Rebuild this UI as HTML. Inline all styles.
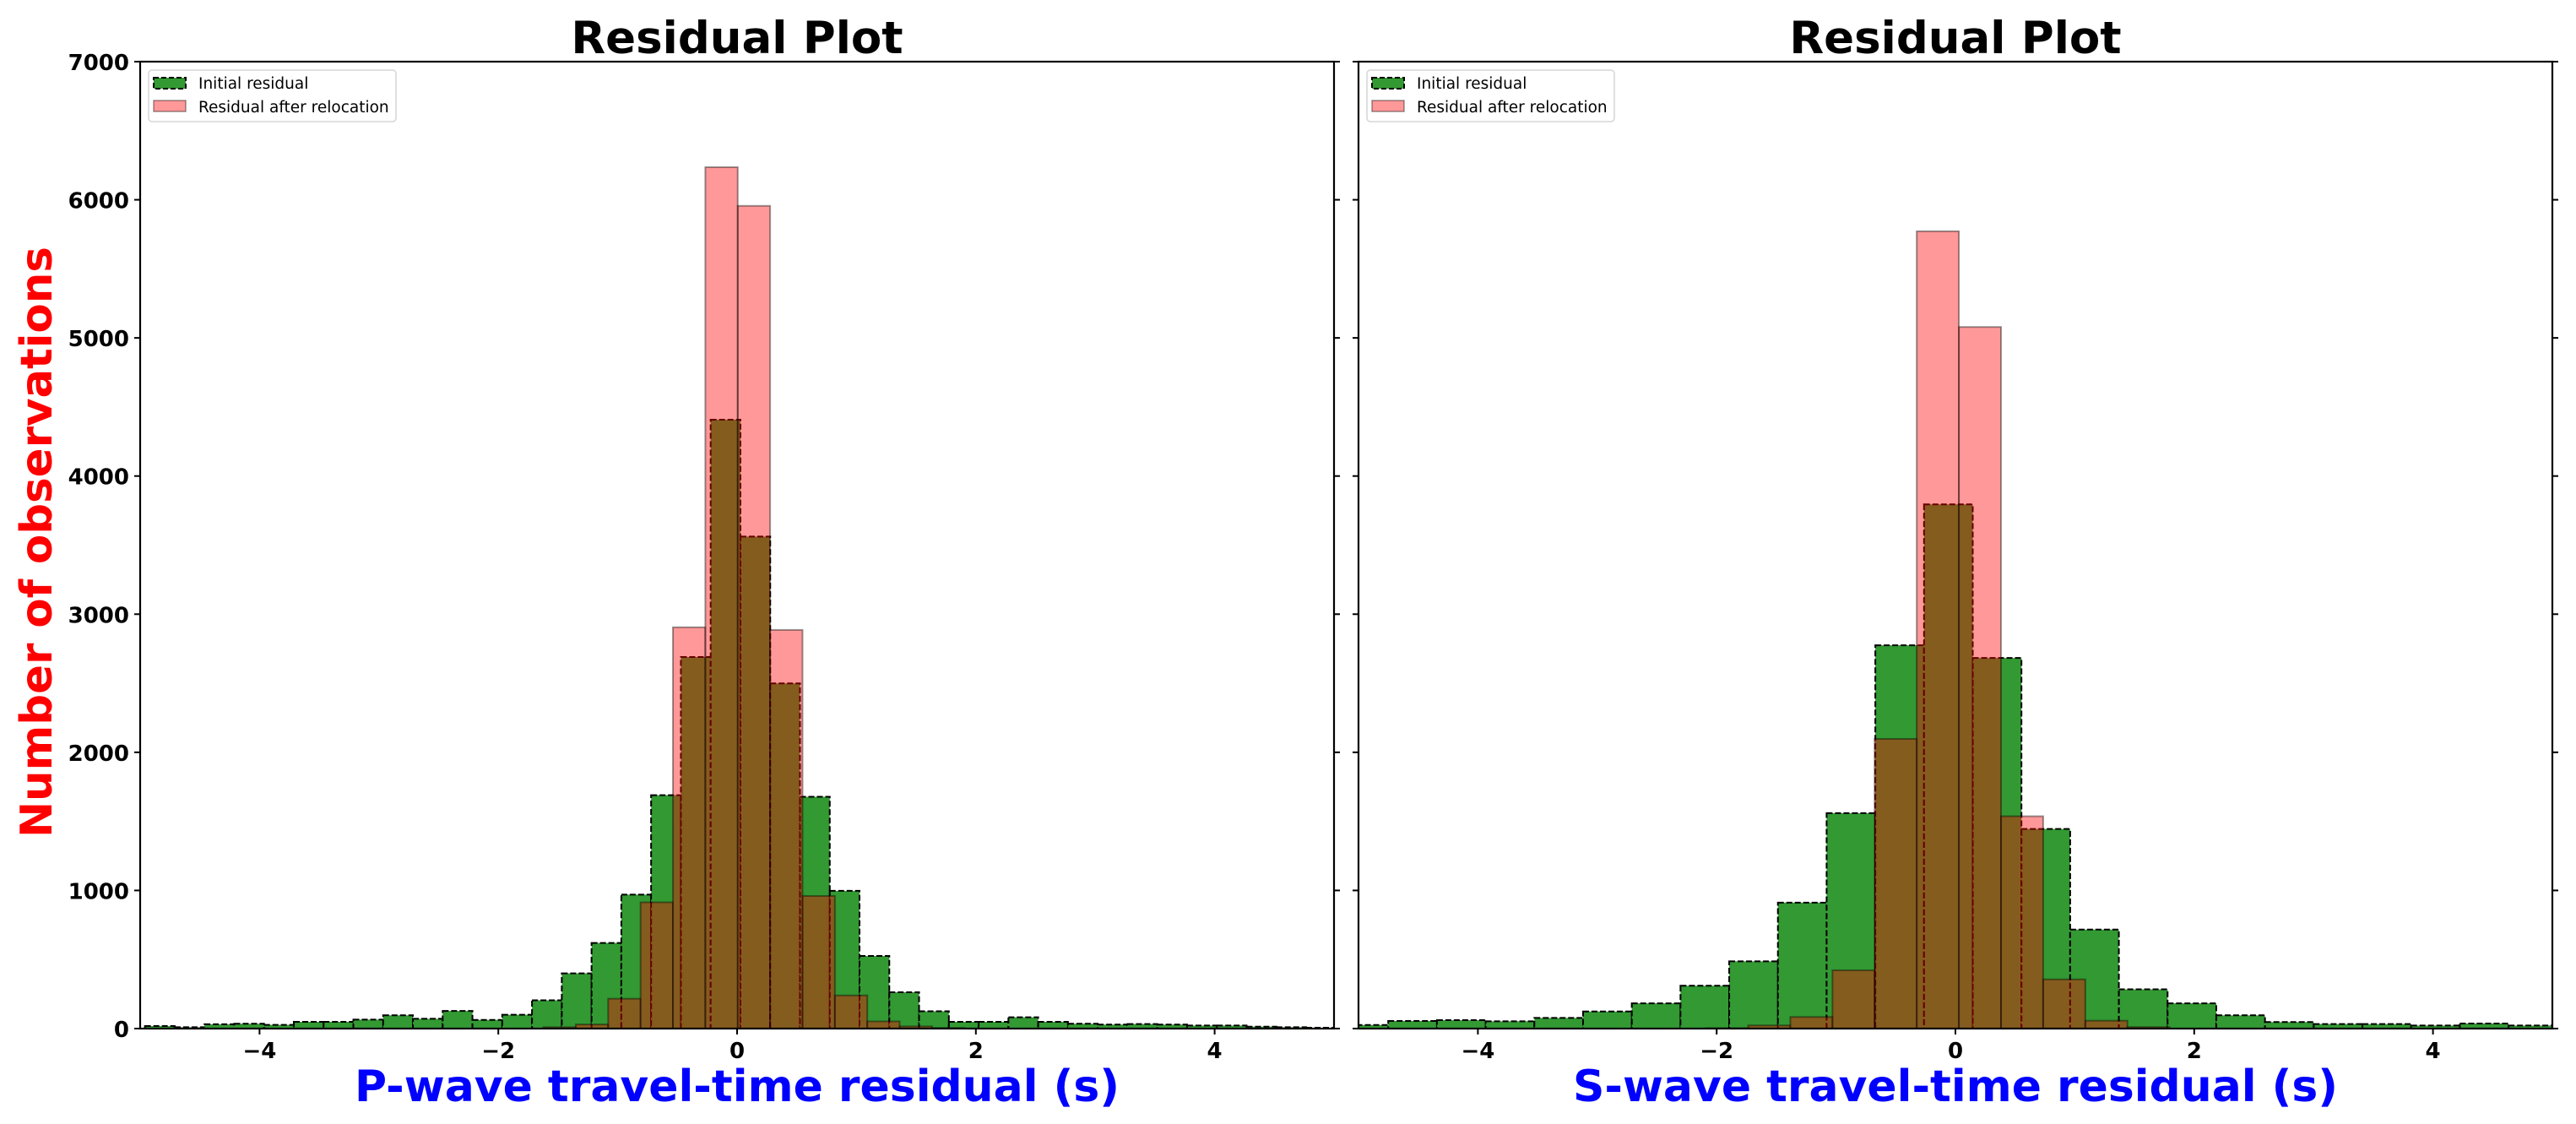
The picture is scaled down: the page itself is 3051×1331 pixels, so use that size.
<!DOCTYPE html>
<html><head><meta charset="utf-8"><style>
html,body{margin:0;padding:0;background:#fff;}
svg{display:block;font-family:"DejaVu Sans","Liberation Sans",sans-serif;}
</style></head><body>
<svg id="fig" width="3051" height="1331" viewBox="0 0 3051 1331" xmlns="http://www.w3.org/2000/svg">
<rect width="3051" height="1331" fill="#fff"/>
</svg>
<script>
// ---- data ----
const pGreenStart = -4.96;
const pGreenWidth = 0.2494;
const pGreenCounts = [18,10,31,35,27,49,49,65,96,71,128,63,100,205,400,620,970,1690,2690,4408,3562,2499,1678,997,526,263,125,49,49,82,49,35,29,33,29,22,22,14,10,6];
const pRedStart = -4.878;
const pRedWidth = 0.2713;
const pRedCounts = [0,0,0,0,0,0,0,0,0,0,0,0,10,30,216,914,2905,6236,5956,2886,960,240,52,16,5,0,0,0,0,0,0,0,0,0,0,0];
const sGreenStart = -5.159;
const sGreenWidth = 0.408;
const sGreenCounts = [26,55,61,53,77,124,183,310,487,912,1560,2775,3795,2683,1445,717,284,183,96,47,33,33,22,37,22];
const sRedStart = -5.266;
const sRedWidth = 0.353;
const sRedCounts = [0,0,0,0,0,0,0,0,0,3,23,84,422,2097,5772,5079,1537,356,57,11,0,0,0,0,0,0,0,0,0];
const yTicks = [0,1000,2000,3000,4000,5000,6000,7000];
const xTicks = [-4,-2,0,2,4];
const xTickLabels = ["\u22124","\u22122","0","2","4"];

const NS = "http://www.w3.org/2000/svg";
const svg = document.getElementById('fig');
function el(tag, attrs, parent, text){
  const e = document.createElementNS(NS, tag);
  for (const k in attrs) e.setAttribute(k, attrs[k]);
  if (text !== undefined) e.textContent = text;
  (parent || svg).appendChild(e);
  return e;
}
const TOP = 73, BASE = 1218;
function yScale(v){ return BASE - v/7000*(BASE-TOP); }

function panel(opt){
  const L = opt.left, R = opt.right;
  const xScale = v => L + (v+5)/10*(R-L);
  const g = el('g', {});
  
  
  const clipId = opt.name + '-clip';
  const cp = el('clipPath', {id: clipId}, g);
  el('rect', {x:L, y:TOP, width:R-L, height:BASE-TOP}, cp);
  const bars = el('g', {'clip-path':'url(#'+clipId+')'}, g);
  opt.gc.forEach((c,i)=>{
    if (c<=0) return;
    const x0 = xScale(opt.gs + i*opt.gw), x1 = xScale(opt.gs + (i+1)*opt.gw);
    const r = el('rect', {x:x0, y:yScale(c), width:x1-x0, height:BASE-yScale(c), fill:'#339933', stroke:'#000', 'stroke-width':2, 'stroke-dasharray':'7,3'}, bars);
    
    
  });
  opt.rc.forEach((c,i)=>{
    if (c<=0) return;
    const x0 = xScale(opt.rs + i*opt.rw), x1 = xScale(opt.rs + (i+1)*opt.rw);
    const r = el('rect', {x:x0, y:yScale(c), width:x1-x0, height:BASE-yScale(c), fill:'rgba(255,0,0,0.4)', stroke:'rgba(0,0,0,0.4)', 'stroke-width':2}, bars);
    
    
  });
  const fr = el('rect', {x:L, y:TOP, width:R-L, height:BASE-TOP, fill:'none', stroke:'#000', 'stroke-width':2.2}, g);
  
  
  yTicks.forEach(v=>{
    const y = yScale(v);
    el('line', {x1:L-7, x2:L, y1:y, y2:y, stroke:'#000', 'stroke-width':2}, g);
    el('line', {x1:R, x2:R+7, y1:y, y2:y, stroke:'#000', 'stroke-width':2}, g);
    if (opt.ylabels){
      const t = el('text', {x:L-13, y:y+10, 'text-anchor':'end', 'font-size':26, 'font-weight':'bold', fill:'#000'}, g, String(v));
      
      
    }
  });
  xTicks.forEach((v,i)=>{
    const x = xScale(v);
    el('line', {x1:x, x2:x, y1:BASE, y2:BASE+7, stroke:'#000', 'stroke-width':2}, g);
    const t = el('text', {x:x, y:1253, 'text-anchor':'middle', 'font-size':26, 'font-weight':'bold', fill:'#000'}, g, xTickLabels[i]);
    
    
  });
  const cx = (L+R)/2;
  const ti = el('text', {x:cx, y:63, 'text-anchor':'middle', 'font-size':53, 'font-weight':'bold', fill:'#000'}, g, 'Residual Plot');
  
  
  const xl = el('text', {x:cx, y:1304, 'text-anchor':'middle', 'font-size':52, 'font-weight':'bold', fill:'#0000ff', textLength:906, lengthAdjust:'spacingAndGlyphs'}, g, opt.xlabel);
  
  
  const lg = el('g', {}, g);
  
  
  const lx = L + 10;
  el('rect', {x:lx, y:83, width:293, height:61, rx:4, fill:'#fff', 'fill-opacity':0.8, stroke:'#d6d6d6', 'stroke-width':1.5}, lg);
  const e1 = el('g', {}, lg);
  
  
  el('rect', {x:lx+6, y:92, width:38, height:13, fill:'#339933', stroke:'#000', 'stroke-width':2, 'stroke-dasharray':'6,3'}, e1);
  el('text', {x:lx+59, y:105, 'font-size':18.5, fill:'#000'}, e1, 'Initial residual');
  const e2 = el('g', {}, lg);
  
  
  el('rect', {x:lx+6, y:119, width:38, height:13, fill:'#ff9999', stroke:'rgba(0,0,0,0.4)', 'stroke-width':1.5}, e2);
  el('text', {x:lx+59, y:133, 'font-size':18.5, fill:'#000'}, e2, 'Residual after relocation');
}

panel({name:'p-wave-panel', left:166, right:1580, gs:pGreenStart, gw:pGreenWidth, gc:pGreenCounts, rs:pRedStart, rw:pRedWidth, rc:pRedCounts, ylabels:true, xlabel:'P-wave travel-time residual (s)'});
panel({name:'s-wave-panel', left:1609, right:3023, gs:sGreenStart, gw:sGreenWidth, gc:sGreenCounts, rs:sRedStart, rw:sRedWidth, rc:sRedCounts, ylabels:false, xlabel:'S-wave travel-time residual (s)'});

const yl = el('text', {x:0, y:0, 'text-anchor':'middle', 'font-size':52, 'font-weight':'bold', fill:'#ff0000', transform:'translate(61,642) rotate(-90)', textLength:700, lengthAdjust:'spacingAndGlyphs'}, svg, 'Number of observations');


</script>
</body></html>
